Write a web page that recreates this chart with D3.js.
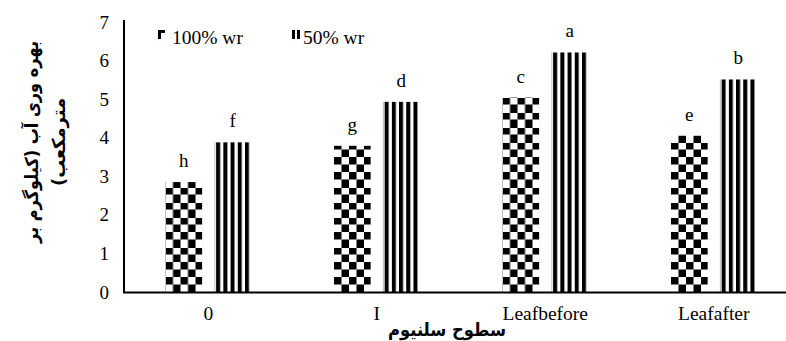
<!DOCTYPE html>
<html>
<head>
<meta charset="utf-8">
<script src="https://cdn.jsdelivr.net/npm/d3@7"></script>
<style>
  body { margin: 0; background: #fff; }
  svg { display: block; }
</style>
</head>
<body>
<svg id="chart" width="786" height="341"></svg>
<script>
const categories = ['0', 'I', 'Leafbefore', 'Leafafter'];
const seriesNames = ['100% wr', '50% wr'];
const values100 = [2.85, 3.79, 5.04, 4.05];
const values50 = [3.88, 4.93, 6.21, 5.51];
const letters100 = ['h', 'g', 'c', 'e'];
const letters50 = ['f', 'd', 'a', 'b'];
const yTicks = [0, 1, 2, 3, 4, 5, 6, 7];
const yTitleLines = ['بهره وری آب (کیلوگرم بر', 'مترمکعب)'];
const xTitle = 'سطوح سلنیوم';

const svg = d3.select('#chart');
const serif = '"Liberation Serif", "Times New Roman", serif';

const x0 = d3.scaleBand().domain(categories).range([124, 798]);
const x1 = d3.scaleBand().domain(seriesNames)
  .range([0, x0.bandwidth()])
  .paddingInner(0.25).paddingOuter(0.85);
const y = d3.scaleLinear().domain([0, 7]).range([292, 22]);

// patterns, lined up with the bar edges inside each group
const defs = svg.append('defs');
const cell = 7.5;
const checker = defs.append('pattern')
  .attr('id', 'checker')
  .attr('patternUnits', 'userSpaceOnUse')
  .attr('x', x1(seriesNames[0])).attr('y', y(0))
  .attr('width', cell * 2).attr('height', cell * 2);
checker.append('rect').attr('width', cell * 2).attr('height', cell * 2).attr('fill', '#fff');
checker.append('rect').attr('width', cell).attr('height', cell).attr('fill', '#000');
checker.append('rect').attr('x', cell).attr('y', cell).attr('width', cell).attr('height', cell).attr('fill', '#000');

const stripes = defs.append('pattern')
  .attr('id', 'stripes')
  .attr('patternUnits', 'userSpaceOnUse')
  .attr('x', x1(seriesNames[1])).attr('y', 0)
  .attr('width', 7.2).attr('height', 10);
stripes.append('rect').attr('width', 7.2).attr('height', 10).attr('fill', '#fff');
stripes.append('rect').attr('x', 1.8).attr('width', 4).attr('height', 10).attr('fill', '#000');

const fills = ['url(#checker)', 'url(#stripes)'];

const rows = categories.map((c, i) => ({
  cat: c,
  bars: [
    { s: seriesNames[0], v: values100[i], l: letters100[i] },
    { s: seriesNames[1], v: values50[i], l: letters50[i] }
  ]
}));

const groups = svg.append('g').selectAll('g')
  .data(rows).join('g')
  .attr('transform', d => `translate(${x0(d.cat)},0)`);

groups.selectAll('rect')
  .data(d => d.bars).join('rect')
  .attr('x', d => x1(d.s))
  .attr('y', d => y(d.v))
  .attr('width', x1.bandwidth())
  .attr('height', d => y(0) - y(d.v))
  .attr('fill', (d, i) => fills[i]);

// thin grey edge on the left of the striped bars
groups.append('line')
  .attr('x1', x1(seriesNames[1]) + 0.5).attr('x2', x1(seriesNames[1]) + 0.5)
  .attr('y1', d => y(d.bars[1].v)).attr('y2', y(0))
  .attr('stroke', '#bbb').attr('stroke-width', 1);

groups.selectAll('text')
  .data(d => d.bars).join('text')
  .attr('x', d => x1(d.s) + x1.bandwidth() / 2)
  .attr('y', d => y(d.v) - 15)
  .attr('text-anchor', 'middle')
  .style('font-family', serif)
  .style('font-size', '19px')
  .text(d => d.l);

// axes
const yAxis = svg.append('g')
  .attr('transform', 'translate(124,0)')
  .call(d3.axisLeft(y).tickValues(yTicks).tickSize(0).tickPadding(15).tickFormat(d3.format('d')));
yAxis.select('.domain').remove();
yAxis.selectAll('text').style('font-family', serif).style('font-size', '19px').attr('fill', '#000');

const xAxis = svg.append('g')
  .attr('transform', 'translate(0,292)')
  .call(d3.axisBottom(x0).tickSize(0).tickPadding(14));
xAxis.select('.domain').remove();
xAxis.selectAll('text').style('font-family', serif).style('font-size', '19.5px').attr('fill', '#000');

svg.append('line')
  .attr('x1', 124).attr('x2', 124).attr('y1', 20).attr('y2', 293)
  .attr('stroke', '#000').attr('stroke-width', 2);
svg.append('line')
  .attr('x1', 123).attr('x2', 786).attr('y1', 292.5).attr('y2', 292.5)
  .attr('stroke', '#000').attr('stroke-width', 2);

// legend
const legendX = [158, 292];
const legend = svg.append('g').selectAll('g')
  .data(seriesNames).join('g')
  .attr('transform', (d, i) => `translate(${legendX[i]},0)`);

// small swatches: corner of the checker, two of the stripes
const sw0 = legend.filter((d, i) => i === 0);
sw0.append('rect').attr('x', 0).attr('y', 30).attr('width', 7).attr('height', 9).attr('fill', '#000');
sw0.append('rect').attr('x', 3).attr('y', 33).attr('width', 4).attr('height', 6).attr('fill', '#fff');
const sw1 = legend.filter((d, i) => i === 1);
sw1.append('rect').attr('x', 0).attr('y', 30).attr('width', 3).attr('height', 9).attr('fill', '#000');
sw1.append('rect').attr('x', 5).attr('y', 30).attr('width', 3).attr('height', 9).attr('fill', '#000');

legend.append('text')
  .attr('x', (d, i) => i === 0 ? 14 : 11)
  .attr('y', 44)
  .style('font-family', serif)
  .style('font-size', '19.5px')
  .text(d => d);

// titles
const arabic = '"DejaVu Sans", "Noto Sans", sans-serif';
const titleLens = [202, 88];
svg.append('g')
  .attr('transform', 'translate(32,142) rotate(-90)')
  .selectAll('text')
  .data(yTitleLines).join('text')
  .attr('x', 0)
  .attr('y', (d, i) => 6 + i * 27)
  .attr('text-anchor', 'middle')
  .attr('direction', 'rtl')
  .attr('textLength', (d, i) => titleLens[i])
  .attr('lengthAdjust', 'spacingAndGlyphs')
  .style('font-family', arabic)
  .style('font-weight', 'bold')
  .style('font-size', '18px')
  .text(d => d);

svg.append('text')
  .attr('x', 447).attr('y', 336)
  .attr('text-anchor', 'middle')
  .attr('direction', 'rtl')
  .attr('textLength', 118)
  .attr('lengthAdjust', 'spacingAndGlyphs')
  .style('font-family', arabic)
  .style('font-weight', 'bold')
  .style('font-size', '18px')
  .text(xTitle);
</script>
</body>
</html>
